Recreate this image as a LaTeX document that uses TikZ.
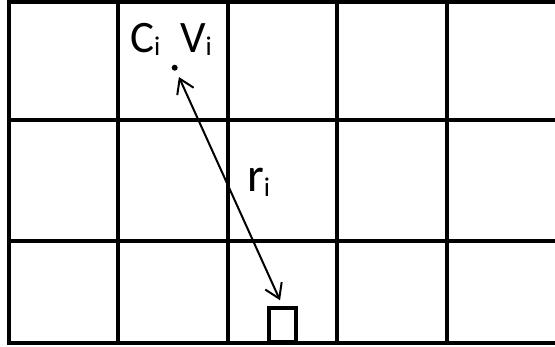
\documentclass[tikz,border=0pt]{standalone}
\usepackage{fontspec}
\setmainfont{Carlito}
\usetikzlibrary{arrows.meta}

\newcommand{\idx}[2][-3pt]{\raisebox{#1}{\fontsize{27}{27}\selectfont #2}}

\begin{document}
\begin{tikzpicture}[
  x=1pt, y=-1pt,
  gridline/.style={line width=4.5pt, draw=black, line cap=rect},
  lbl/.style={font=\fontsize{45}{45}\selectfont, anchor=base west, inner sep=0pt},
  arr/.style={{Straight Barb[length=14pt, width=18pt]}-{Straight Barb[length=14pt, width=18pt]}, line width=2pt},
  dot/.style={circle, fill=black, minimum size=6pt, inner sep=0pt},
  pad/.style={rectangle, draw=black, line width=4.5pt, minimum width=27pt, minimum height=34pt, inner sep=0pt},
]
\useasboundingbox (0,0) rectangle (555,347);

% ------------------------------------------------------------------ grid
\foreach \x in {9,118,228,337,447}
  \draw[gridline] (\x,2) -- (\x,343);
\foreach \y in {2,120,241,343}
  \draw[gridline] (9,\y) -- (557,\y);

% ---------------------------------------------------------------- labels
\node[lbl] (ci) at (130,53) {C\idx{i}};
\node[lbl] (vi) at (180,53) {V\idx{i}};
\node[lbl, font=\fontsize{48}{48}\selectfont] (ri) at (247,192) {r\idx[-5pt]{i}};

% ------------------------------------------------------- point and target
\node[dot] (pt) at (174.7,67.7) {};
\node[pad] (box) at (282.5,325) {};

\draw[arr, shorten <=7pt, shorten >=6pt] (pt) -- (box.north);

\end{tikzpicture}
\end{document}
